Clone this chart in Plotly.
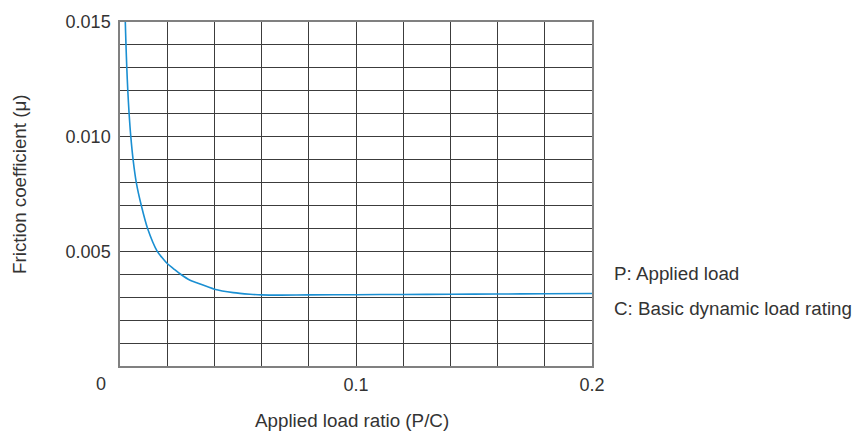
import plotly.graph_objects as go

# Data
load_ratio = [0.0020, 0.00225, 0.00254, 0.00288, 0.00331, 0.00386, 0.00458, 0.00555,
              0.00691, 0.00903, 0.01169, 0.0158, 0.0177, 0.0200, 0.0226, 0.0257,
              0.0297, 0.0325, 0.040, 0.048, 0.0551, 0.060, 0.068, 0.080, 0.10,
              0.12, 0.14, 0.16, 0.18, 0.20]
friction = [0.0163, 0.0150, 0.0140, 0.0130, 0.0120, 0.0110, 0.0100, 0.0090,
            0.0080, 0.0070, 0.0060, 0.0050, 0.00474, 0.00447, 0.00425, 0.0040,
            0.00374, 0.00363, 0.00335, 0.00320, 0.00313, 0.00310, 0.00309, 0.00310, 0.00311,
            0.00312, 0.00313, 0.00314, 0.00315, 0.00316]

x_tick_vals = [0.1, 0.2]
x_tick_text = ["0.1", "0.2"]
y_tick_vals = [0.005, 0.010, 0.015]
y_tick_text = ["0.005", "0.010", "0.015"]
origin_label = "0"
x_title = "Applied load ratio (P/C)"
y_title = "Friction coefficient (μ)"
notes = ["P: Applied load", "C: Basic dynamic load rating"]

FONT = "Liberation Sans, Arial, sans-serif"
FS = 18
FS_TXT = 18.8
TXT = "#333333"
GRID = "#3c3c3c"

fig = go.Figure()
fig.add_trace(go.Scatter(
    x=load_ratio, y=friction, mode="lines",
    line=dict(color="#1a8fd2", width=1.6, shape="spline", smoothing=0.8),
    hoverinfo="skip", showlegend=False,
))

fig.update_layout(
    width=854, height=433,
    margin=dict(l=120, r=262, t=18, b=67),
    paper_bgcolor="white", plot_bgcolor="white",
    font=dict(family=FONT, size=FS, color=TXT),
    showlegend=False,
)
fig.update_xaxes(
    range=[0, 0.2], showgrid=True, gridcolor=GRID, gridwidth=1,
    zeroline=False,
    showline=True, linecolor="#808080", linewidth=1.5, mirror=True,
    tickmode="array", tickvals=x_tick_vals, ticktext=x_tick_text,
    ticks="", ticklabelstandoff=2,
    minor=dict(dtick=0.02, tick0=0, showgrid=True, gridcolor=GRID, gridwidth=1),
)
fig.update_yaxes(
    range=[0, 0.015], showgrid=True, gridcolor=GRID, gridwidth=1,
    zeroline=False,
    showline=True, linecolor="#808080", linewidth=1.5, mirror=True,
    tickmode="array", tickvals=y_tick_vals, ticktext=y_tick_text,
    ticks="", ticklabelstandoff=4,
    minor=dict(dtick=0.001, tick0=0, showgrid=True, gridcolor=GRID, gridwidth=1),
)

fig.add_annotation(text=origin_label, xref="paper", yref="paper", x=0, y=0,
                   xshift=-19, yshift=-18, showarrow=False, xanchor="center", yanchor="middle",
                   font=dict(family=FONT, size=FS, color=TXT))
fig.add_annotation(text=x_title, xref="paper", yref="paper", x=0.5, y=0,
                   xshift=-4, yshift=-54, showarrow=False, xanchor="center", yanchor="middle",
                   font=dict(family=FONT, size=FS_TXT, color=TXT))
fig.add_annotation(text=y_title, xref="paper", yref="paper", x=0, y=0.5,
                   xshift=-101, yshift=10, textangle=-90, showarrow=False,
                   xanchor="center", yanchor="middle",
                   font=dict(family=FONT, size=FS_TXT, color=TXT))
for i, note in enumerate(notes):
    fig.add_annotation(text=note, xref="paper", yref="paper", x=1, y=0.5,
                       xshift=20, yshift=-79 - 35 * i, showarrow=False,
                       xanchor="left", yanchor="middle",
                       font=dict(family=FONT, size=FS_TXT, color=TXT))

fig.write_html("out.html", config={"displayModeBar": False},
               post_script="document.body.style.margin='0';")
